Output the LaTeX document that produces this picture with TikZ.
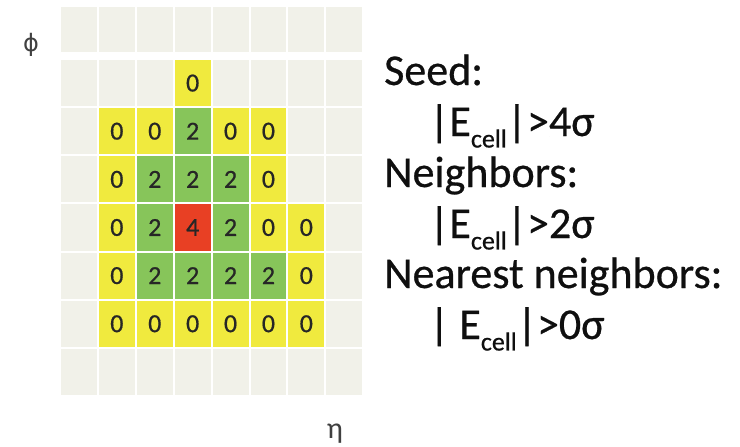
\documentclass[tikz,border=0pt]{standalone}
\usepackage{fontspec}
\setmainfont{Carlito}
\newfontfamily\heavy[FakeBold=0.6]{Carlito}
\newfontfamily\dvs{DejaVu Sans}
\definecolor{bgc}{RGB}{241,241,233}
\definecolor{yel}{RGB}{240,234,62}
\definecolor{grn}{RGB}{135,197,90}
\definecolor{rd}{RGB}{232,64,36}
\definecolor{txt}{RGB}{15,15,15}
\newcommand{\Ecell}{E\raisebox{-0.26em}{\fontsize{26}{26}\selectfont cell}}
\begin{document}
\begin{tikzpicture}[x=1pt,y=-1pt,
  cellnum/.style={font=\heavy\fontsize{26}{26}\selectfont, text=black!85, inner sep=0pt},
  lbl/.style={anchor=base west, font=\heavy\fontsize{44}{44}\selectfont, text=txt, inner sep=0pt},
  axis/.style={text=black!75, inner sep=0pt}]
\useasboundingbox (0,0) rectangle (740,447);
% top row
\foreach \c in {1,...,8} {
  \fill[bgc] ({60+37.9*(\c-1)+1},7) rectangle ({60+37.9*\c-1},52);
}
% main grid background
\foreach \r in {2,...,8} {
  \foreach \c in {1,...,8} {
    \fill[bgc] ({60+37.9*(\c-1)+1},{59+48.14*(\r-2)+1}) rectangle ({60+37.9*\c-1},{59+48.14*(\r-1)-1});
  }
}
% coloured cells
\foreach \r/\c/\col/\v in {
  2/4/yel/0,
  3/2/yel/0, 3/3/yel/0, 3/4/grn/2, 3/5/yel/0, 3/6/yel/0,
  4/2/yel/0, 4/3/grn/2, 4/4/grn/2, 4/5/grn/2, 4/6/yel/0,
  5/2/yel/0, 5/3/grn/2, 5/4/rd/4, 5/5/grn/2, 5/6/yel/0, 5/7/yel/0,
  6/2/yel/0, 6/3/grn/2, 6/4/grn/2, 6/5/grn/2, 6/6/grn/2, 6/7/yel/0,
  7/2/yel/0, 7/3/yel/0, 7/4/yel/0, 7/5/yel/0, 7/6/yel/0, 7/7/yel/0} {
  \fill[\col] ({60+37.9*(\c-1)+1},{59+48.14*(\r-2)+1}) rectangle ({60+37.9*\c-1},{59+48.14*(\r-1)-1});
  \node[cellnum] (n-\r-\c) at ({60+37.9*(\c-0.5)},{59+48.14*(\r-1.5)}) {\v};
}
% axis labels
\node[axis, font=\dvs\fontsize{24}{24}\selectfont] (phi) at (31,45) {ϕ};
\node[axis, anchor=base, font=\fontsize{30}{30}\selectfont] (eta) at (335,438) {η};
% legend text
\node[lbl] (l1) at (384,85) {Seed:};
\node[lbl] (l2) at (429,136) {|\Ecell|>4σ};
\node[lbl] (l3) at (384,187) {Neighbors:};
\node[lbl] (l4) at (429,238) {|\Ecell|>2σ};
\node[lbl] (l5) at (384,288) {Nearest neighbors:};
\node[lbl] (l6) at (429,339) {| \Ecell|>0σ};
\end{tikzpicture}
\end{document}
